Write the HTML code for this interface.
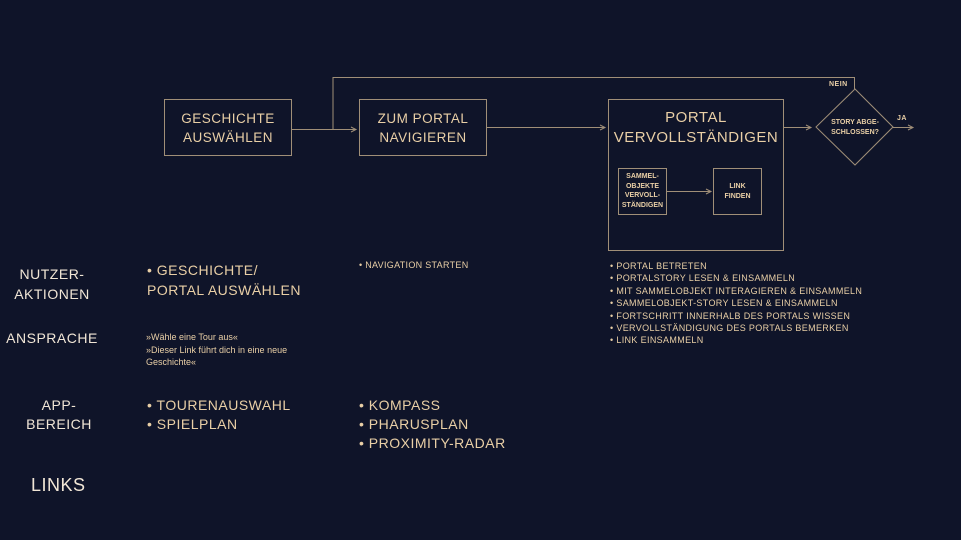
<!DOCTYPE html>
<html><head><meta charset="utf-8"><style>
body{margin:0;width:961px;height:540px;background:#0f1429;overflow:hidden;font-family:"Liberation Sans",sans-serif;position:relative}
.t{position:absolute;color:#e9cfa6;letter-spacing:0.5px;white-space:nowrap}
.c{text-align:center}
.w{color:#f1e6d6}
.b{font-weight:bold}
</style></head><body>
<svg width="961" height="540" style="position:absolute;left:0;top:0" fill="none" stroke="#a08f78" stroke-width="1">
<rect x="164.5" y="99.5" width="127" height="56"/>
<rect x="359.5" y="99.5" width="127" height="56"/>
<rect x="608.5" y="99.5" width="175" height="151"/>
<rect x="618.5" y="168.5" width="48" height="46"/>
<rect x="713.5" y="168.5" width="48" height="46"/>
<polygon points="855,89 893,127 855,165 816,127"/>
<polyline points="333,130 333,77.5 854.5,77.5 854.5,89"/>
<line x1="291" y1="129.5" x2="355" y2="129.5"/><path d="M351,127 L356,129.5 L351,132"/>
<line x1="486" y1="127.5" x2="604" y2="127.5"/><path d="M600,125 L605,127.5 L600,130"/>
<line x1="783" y1="127.5" x2="810" y2="127.5"/><path d="M806,125 L811,127.5 L806,130"/>
<line x1="893" y1="127.5" x2="912" y2="127.5"/><path d="M908,125 L913,127.5 L908,130"/>
<line x1="666" y1="191.5" x2="710" y2="191.5"/><path d="M706,189 L711,191.5 L706,194"/>
</svg>
<div class="t c" style="left:164px;top:109px;width:128px;font-size:13.5px;line-height:19px">GESCHICHTE<br>AUSWÄHLEN</div>
<div class="t c" style="left:359px;top:109px;width:128px;font-size:13.5px;line-height:19px">ZUM PORTAL<br>NAVIGIEREN</div>
<div class="t c" style="left:608px;top:108px;width:176px;font-size:15px;line-height:20px">PORTAL<br>VERVOLLSTÄNDIGEN</div>
<div class="t c b" style="left:618px;top:172px;width:49px;font-size:7px;line-height:9.5px;letter-spacing:0">SAMMEL-<br>OBJEKTE<br>VERVOLL-<br>STÄNDIGEN</div>
<div class="t c b" style="left:713px;top:182px;width:49px;font-size:7px;line-height:9.5px;letter-spacing:0">LINK<br>FINDEN</div>
<div class="t c b" style="left:816px;top:118px;width:78px;font-size:7px;line-height:9.5px;letter-spacing:0">STORY ABGE-<br>SCHLOSSEN?</div>
<div class="t b" style="left:829px;top:81px;font-size:7px">NEIN</div>
<div class="t b" style="left:897px;top:115px;font-size:7px">JA</div>
<div class="t c w" style="left:0;top:264px;width:104px;font-size:14px;line-height:20px">NUTZER-<br>AKTIONEN</div>
<div class="t c w" style="left:0;top:330px;width:104px;font-size:14px">ANSPRACHE</div>
<div class="t c w" style="left:0;top:396px;width:118px;font-size:14px;line-height:19px">APP-<br>BEREICH</div>
<div class="t w" style="left:31px;top:475px;font-size:18px">LINKS</div>
<div class="t" style="left:147px;top:260px;font-size:14px;line-height:20px">• GESCHICHTE/<br>PORTAL AUSWÄHLEN</div>
<div class="t" style="left:359px;top:260px;font-size:9px;letter-spacing:0.3px">• NAVIGATION STARTEN</div>
<div class="t" style="left:146px;top:331px;font-size:9px;line-height:12.5px;letter-spacing:0">»Wähle eine Tour aus«<br>»Dieser Link führt dich in eine neue<br>Geschichte«</div>
<div class="t" style="left:147px;top:396px;font-size:14px;line-height:19px">• TOURENAUSWAHL<br>• SPIELPLAN</div>
<div class="t" style="left:359px;top:396px;font-size:14px;line-height:19px">• KOMPASS<br>• PHARUSPLAN<br>• PROXIMITY-RADAR</div>
<div class="t" style="left:610px;top:260px;font-size:9px;line-height:12.4px;letter-spacing:0.35px">• PORTAL BETRETEN<br>• PORTALSTORY LESEN &amp; EINSAMMELN<br>• MIT SAMMELOBJEKT INTERAGIEREN &amp; EINSAMMELN<br>• SAMMELOBJEKT-STORY LESEN &amp; EINSAMMELN<br>• FORTSCHRITT INNERHALB DES PORTALS WISSEN<br>• VERVOLLSTÄNDIGUNG DES PORTALS BEMERKEN<br>• LINK EINSAMMELN</div>
</body></html>
